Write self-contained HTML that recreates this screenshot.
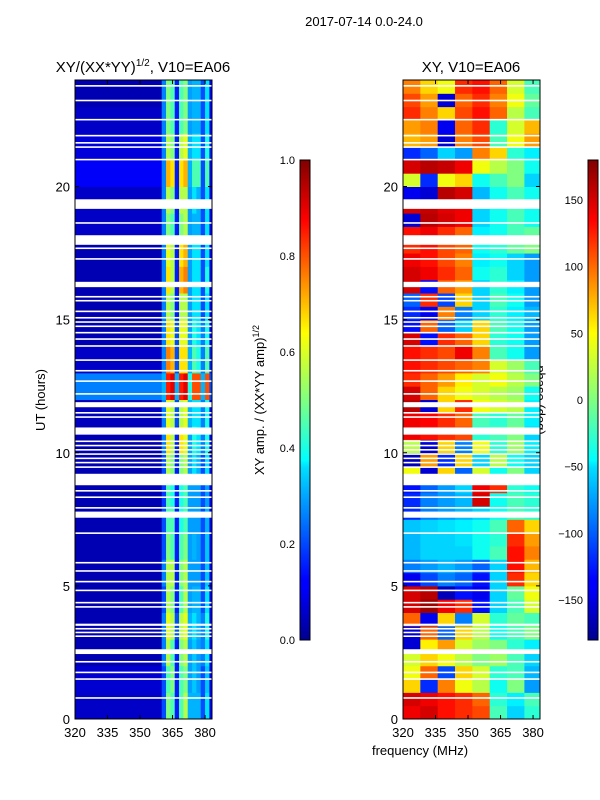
<!DOCTYPE html>
<html><head><meta charset="utf-8"><style>
body{margin:0;background:#fff;}
svg{display:block;font-family:"Liberation Sans",sans-serif;}
</style></head><body>
<svg id="fig" width="600" height="800" viewBox="0 0 600 800">
<text x="364" y="26" font-size="13" text-anchor="middle">2017-07-14 0.0-24.0</text>
<text x="143" y="72" font-size="15" text-anchor="middle">XY/(XX*YY)<tspan font-size="10" dy="-6">1/2</tspan><tspan dy="6">, V10=EA06</tspan></text>
<text x="471" y="72" font-size="15" text-anchor="middle">XY, V10=EA06</text>
<text transform="translate(45,400) rotate(-90)" font-size="13" text-anchor="middle">UT (hours)</text>
<text x="420" y="755" font-size="13" text-anchor="middle">frequency (MHz)</text>
<text transform="translate(264,400) rotate(-90)" font-size="13" text-anchor="middle">XY amp. / (XX*YY amp)<tspan font-size="9" dy="-5">1/2</tspan></text>
<text transform="translate(536,400) rotate(90)" font-size="13" text-anchor="middle">phase (deg)</text>
<defs>
<linearGradient id="jet" x1="0" y1="1" x2="0" y2="0">
<stop offset="0" stop-color="#00008f"/><stop offset="0.11" stop-color="#0000ff"/><stop offset="0.125" stop-color="#0000ff"/><stop offset="0.36" stop-color="#00dfff"/><stop offset="0.375" stop-color="#00ffff"/><stop offset="0.5" stop-color="#80ff80"/><stop offset="0.64" stop-color="#ffff00"/><stop offset="0.875" stop-color="#ff0000"/><stop offset="1" stop-color="#800000"/>
</linearGradient>
</defs>
<g id="left"></g>
<g id="right"></g>
<g id="axes"></g>
<rect x="300" y="160" width="10" height="480" fill="url(#jet)" stroke="#000" stroke-width="1"/>
<rect x="588" y="160" width="10" height="480" fill="url(#jet)" stroke="#000" stroke-width="1"/>
</svg>
<script>
const xTicks=[320,335,350,365,380];
const yTicks=[0,5,10,15,20];
const ampTicks=[0.0,0.2,0.4,0.6,0.8,1.0];
const phaseTicks=[-150,-100,-50,0,50,100,150];
// amplitude: background (320-360 MHz) per hour
const ampBackground=[0.07,0.08,0.05,0.05,0.05,0.05,0.05,0.05,0.05,0.05,0.05,0.06,0.25,0.07,0.05,0.05,0.05,0.05,0.07,0.07,0.12,0.09,0.07,0.05];
// amplitude band columns 360..384 MHz, 2 MHz each
const ampCols=[360,362,364,366,368,370,372,374,376,378,380,382];
const ampRows=[
[0.2,0.5,0.45,0.15,0.45,0.55,0.3,0.3,0.3,0.2,0.35,0.12],
[0.2,0.45,0.5,0.15,0.45,0.5,0.28,0.32,0.28,0.2,0.32,0.12],
[0.25,0.55,0.45,0.15,0.5,0.55,0.28,0.32,0.28,0.25,0.35,0.12],
[0.25,0.6,0.55,0.2,0.55,0.6,0.3,0.35,0.3,0.25,0.4,0.12],
[0.2,0.55,0.5,0.15,0.45,0.55,0.28,0.3,0.3,0.2,0.35,0.12],
[0.25,0.55,0.55,0.15,0.5,0.55,0.28,0.28,0.28,0.2,0.32,0.12],
[0.2,0.5,0.45,0.15,0.45,0.5,0.28,0.3,0.28,0.2,0.32,0.12],
[0.2,0.45,0.45,0.15,0.4,0.45,0.28,0.28,0.28,0.2,0.3,0.12],
[0.18,0.45,0.4,0.15,0.4,0.45,0.28,0.28,0.28,0.2,0.28,0.12],
[0.2,0.55,0.5,0.15,0.5,0.55,0.28,0.35,0.3,0.2,0.35,0.12],
[0.25,0.65,0.55,0.15,0.65,0.6,0.28,0.4,0.35,0.25,0.4,0.12],
[0.25,0.6,0.55,0.2,0.55,0.6,0.3,0.35,0.35,0.25,0.4,0.12],
[0.3,0.85,0.9,0.3,0.85,0.9,0.4,0.8,0.8,0.3,0.8,0.2],
[0.25,0.75,0.7,0.2,0.65,0.65,0.3,0.45,0.4,0.25,0.45,0.15],
[0.25,0.65,0.6,0.2,0.6,0.6,0.28,0.4,0.35,0.25,0.4,0.12],
[0.25,0.55,0.5,0.15,0.55,0.55,0.28,0.35,0.35,0.2,0.35,0.12],
[0.25,0.65,0.55,0.15,0.7,0.75,0.28,0.35,0.35,0.2,0.4,0.12],
[0.25,0.6,0.55,0.15,0.65,0.7,0.28,0.35,0.35,0.2,0.35,0.12],
[0.25,0.5,0.45,0.15,0.5,0.55,0.28,0.3,0.3,0.2,0.35,0.12],
[0.25,0.55,0.5,0.15,0.55,0.55,0.28,0.35,0.3,0.2,0.35,0.12],
[0.25,0.7,0.65,0.15,0.65,0.7,0.3,0.45,0.45,0.2,0.45,0.12],
[0.25,0.55,0.5,0.15,0.55,0.6,0.3,0.35,0.35,0.2,0.4,0.15],
[0.25,0.5,0.45,0.15,0.45,0.5,0.28,0.3,0.3,0.2,0.35,0.12],
[0.25,0.5,0.45,0.15,0.45,0.5,0.28,0.3,0.3,0.2,0.35,0.12]];
// phase: 48 half-hour rows x 8 frequency columns (320..384, 8 MHz each)
const phaseCols=[320,328,336,344,352,360,368,376];
const phaseRows=[
[140,150,130,120,110,-20,-60,-30],[150,140,130,120,100,-30,-50,-20],
[60,-120,90,40,20,-40,0,-80],[40,100,-110,60,30,-30,-20,-70],
[30,60,40,20,0,10,-20,-60],[-150,50,80,30,10,0,-30,-50],
[-150,100,-100,60,20,-40,-20,0],[100,-140,60,-90,30,-30,-10,-20],
[150,170,140,120,-130,-60,-20,30],[150,160,-160,-130,-140,-60,-10,40],
[-140,-110,-90,-100,-130,-60,120,60],[-90,-80,-70,-80,-100,-60,130,70],
[-70,-60,-60,-60,-40,-20,130,90],[-70,-60,-60,-55,-40,-30,120,80],
[-65,-60,-55,-50,-40,-20,100,60],[-120,-90,-80,-70,-60,-40,-20,-30],
[-120,-90,-80,-70,150,-40,-20,-30],[-130,-100,-80,-60,140,120,-30,-40],
[40,-150,60,-100,30,-40,0,-60],[-160,80,-120,60,-60,20,-40,-60],
[20,-150,60,-90,40,-30,10,-50],[140,130,120,110,-30,-20,0,-60],
[140,135,120,100,-20,-30,-10,-50],[160,-150,60,120,40,30,20,-50],
[150,100,60,40,30,20,10,-40],[120,100,80,50,30,40,20,0],
[130,120,110,100,90,30,10,-20],[130,120,110,140,90,-20,-40,-80],
[150,-130,120,100,60,-30,-40,-80],[-130,100,-100,-60,60,-20,-40,-80],
[-120,-140,90,-90,-60,-30,-50,-70],[-100,120,-110,60,-60,-20,-40,-80],
[150,-130,100,80,-60,-30,-50,-80],[150,140,120,100,-40,-30,-60,-80],
[140,130,110,90,-50,-40,-60,-80],[120,130,110,100,-40,-30,-10,0],
[130,140,120,100,-50,-40,-20,-10],[-150,160,150,140,-60,-40,-20,-40],
[150,155,145,140,-60,-40,-20,-40],[-140,-150,160,150,-70,-40,-20,-40],
[30,-120,40,60,-40,-20,0,-60],[150,160,155,140,40,20,0,-40],
[-120,-100,-60,-80,90,60,-30,-50],[70,80,-150,90,110,-20,40,80],
[80,90,-140,100,120,-30,30,70],[120,90,60,110,130,100,20,-20],
[110,80,-150,100,120,90,40,-10],[90,60,40,120,130,100,30,-20]];
// flagged (white) time ranges in hours
const flagStart=[0.76,1.47,1.72,2.12,2.44,3.08,3.22,3.36,3.5,4.18,4.34,4.8,5.13,5.53,5.84,6.95,7.56,7.9,8.3,8.54,8.78,9.43,9.6,9.76,9.92,10.08,10.24,10.4,10.68,11.31,11.47,11.71,12.18,12.66,13.05,13.45,13.98,14.24,14.48,14.72,14.88,15.04,15.28,15.68,15.83,16.22,17.25,17.65,17.81,18.6,19.16,20.98,21.45,21.61,21.88,22.48,23.2,23.75];
const flagEnd=  [0.82,1.53,1.78,2.18,2.62,3.14,3.28,3.42,3.58,4.24,4.4,4.86,5.19,5.59,5.9,7.01,7.79,7.96,8.36,8.6,9.21,9.49,9.66,9.82,9.98,10.14,10.3,10.46,10.95,11.37,11.53,11.9,12.24,12.72,13.11,13.51,14.04,14.3,14.54,14.78,14.94,15.1,15.34,15.74,15.89,16.42,17.31,17.71,18.17,18.66,19.52,21.04,21.51,21.67,21.94,22.54,23.26,23.81];

const NS='http://www.w3.org/2000/svg';
const L={x0:75,x1:212},R={x0:403,x1:540},Y0=719,Y1=80;
const fx=(p,f)=>p.x0+(f-320)/(383.2-320)*(p.x1-p.x0);
const fy=h=>Y0-h/24*(Y0-Y1);
function jet(v){v=Math.max(0,Math.min(1,v));
 const r=Math.max(0,Math.min(1,Math.min(4*v-1.5,-4*v+4.5)));
 const g=Math.max(0,Math.min(1,Math.min(4*v-0.5,-4*v+3.5)));
 const b=Math.max(0,Math.min(1,Math.min(4*v+0.5,-4*v+2.5)));
 return `rgb(${Math.round(r*255)},${Math.round(g*255)},${Math.round(b*255)})`;}
function rect(g,x,y,w,h,fill,name){const r=document.createElementNS(NS,'rect');
 r.setAttribute('x',x);r.setAttribute('y',y);r.setAttribute('width',w);r.setAttribute('height',h);r.setAttribute('fill',fill);
 
 
 g.appendChild(r);return r;}
const gl=document.getElementById('left'),gr=document.getElementById('right');
ampBackground.forEach((v,i)=>{
 rect(gl,L.x0,fy(i+1),fx(L,360)-L.x0+0.5,fy(i)-fy(i+1)+0.5,jet(v),'amp-background-cell');
 ampRows[i].forEach((a,j)=>{const f0=ampCols[j],f1=Math.min(383.2,f0+2);
  rect(gl,fx(L,f0),fy(i+1),fx(L,f1)-fx(L,f0)+0.5,fy(i)-fy(i+1)+0.5,jet(a),'amp-cell');});
});
phaseRows.forEach((row,i)=>{row.forEach((p,j)=>{const f0=phaseCols[j],f1=Math.min(383.2,f0+8);
 rect(gr,fx(R,f0),fy((i+1)/2),fx(R,f1)-fx(R,f0)+0.5,fy(i/2)-fy((i+1)/2)+0.5,jet((p+180)/360),'phase-cell');});});
flagStart.forEach((s,k)=>{
 rect(gl,L.x0,fy(flagEnd[k]),L.x1-L.x0,fy(s)-fy(flagEnd[k]),'#fff','flag-band');
 rect(gr,R.x0,fy(flagEnd[k]),R.x1-R.x0,fy(s)-fy(flagEnd[k]),'#fff','flag-band');});
const ga=document.getElementById('axes');
function line(x1,y1,x2,y2,name){const l=document.createElementNS(NS,'line');
 l.setAttribute('x1',x1);l.setAttribute('y1',y1);l.setAttribute('x2',x2);l.setAttribute('y2',y2);l.setAttribute('stroke','#000');
 
 
 ga.appendChild(l);}
function text(x,y,s,anchor,name){const t=document.createElementNS(NS,'text');
 t.setAttribute('x',x);t.setAttribute('y',y);t.setAttribute('font-size',name.indexOf('colorbar')>=0?11:13);t.setAttribute('text-anchor',anchor);t.textContent=s;
 
 
 ga.appendChild(t);}
[L,R].forEach(p=>{
 const fr=document.createElementNS(NS,'rect');fr.setAttribute('x',p.x0);fr.setAttribute('y',Y1);fr.setAttribute('width',p.x1-p.x0);fr.setAttribute('height',Y0-Y1);fr.setAttribute('fill','none');fr.setAttribute('stroke','#000');
 
 
 ga.appendChild(fr);
 xTicks.forEach(t=>{const x=fx(p,t);line(x,Y0,x,Y0-4,'x-tick');line(x,Y1,x,Y1+4,'x-tick');text(x,737,String(t),'middle','x-tick-label');});
 yTicks.forEach(t=>{const y=fy(t);line(p.x0,y,p.x0+4,y,'y-tick');line(p.x1,y,p.x1-4,y,'y-tick');text(p.x0-5,y+5,String(t),'end','y-tick-label');});
});
ampTicks.forEach(t=>{const y=640-t*480;line(300,y,304,y,'amp-colorbar-tick');line(310,y,306,y,'amp-colorbar-tick');text(295,y+4,t.toFixed(1),'end','amp-colorbar-tick-label');});
phaseTicks.forEach(t=>{const y=640-(t+180)/360*480;line(588,y,592,y,'phase-colorbar-tick');line(598,y,594,y,'phase-colorbar-tick');text(583,y+4,t<0?'\u2212'+(-t):String(t),'end','phase-colorbar-tick-label');});
</script>
</body></html>
